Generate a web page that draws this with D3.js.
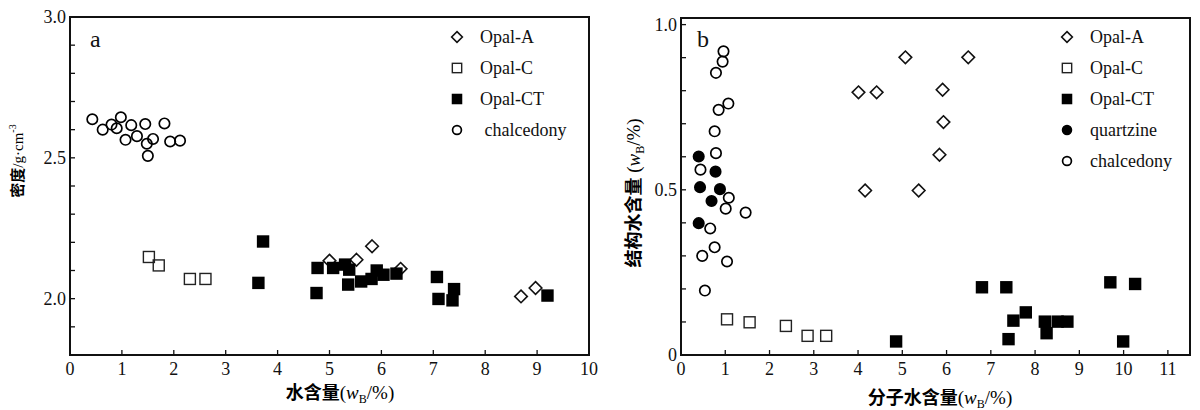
<!doctype html>
<html>
<head>
<meta charset="utf-8">
<script src="https://cdn.jsdelivr.net/npm/d3@7/dist/d3.min.js"></script>
<style>
    html, body { margin: 0; padding: 0; background: #fff; }
    svg { display: block; }
    .tick-label { font-family: "Liberation Serif", "DejaVu Serif", serif; font-size: 18px; fill: #111; }
    .legend-label { font-family: "Liberation Serif", "DejaVu Serif", serif; font-size: 18px; fill: #111; }
    .cjk { font-family: "Noto Sans CJK SC", sans-serif; font-weight: bold; }
    .serif { font-family: "Liberation Serif", serif; font-weight: normal; }
</style>
<script>
    // panel a: water content vs density
    var aOpalA = [[5.0, 2.135], [5.52, 2.138], [5.82, 2.186], [6.37, 2.106], [8.69, 2.008], [8.97, 2.038]];
    var aOpalC = [[1.52, 2.148], [1.71, 2.118], [2.31, 2.07], [2.61, 2.07]];
    var aOpalCT = [[3.72, 2.203], [3.63, 2.056], [4.77, 2.109], [4.75, 2.02], [5.07, 2.109], [5.30, 2.121],
        [5.38, 2.103], [5.36, 2.05], [5.61, 2.061], [5.81, 2.07], [5.91, 2.10], [6.04, 2.085], [6.29, 2.089],
        [7.07, 2.077], [7.40, 2.034], [7.10, 1.999], [7.37, 1.994], [9.20, 2.011]];
    var aChalcedony = [[0.43, 2.637], [0.63, 2.60], [0.80, 2.618], [0.90, 2.605], [0.98, 2.644], [1.18, 2.616],
        [1.07, 2.564], [1.29, 2.577], [1.45, 2.62], [1.60, 2.567], [1.48, 2.55], [1.50, 2.507],
        [1.82, 2.622], [1.93, 2.558], [2.12, 2.561]];

    // panel b: molecular water vs structural water
    var bOpalA = [[5.07, 0.901], [6.49, 0.901], [4.01, 0.795], [4.42, 0.795], [5.91, 0.803], [5.93, 0.705],
        [5.84, 0.606], [4.16, 0.498], [5.37, 0.498]];
    var bOpalC = [[1.04, 0.108], [1.55, 0.099], [2.37, 0.088], [2.86, 0.058], [3.28, 0.058]];
    var bOpalCT = [[6.80, 0.205], [7.35, 0.205], [9.70, 0.22], [10.26, 0.215], [7.79, 0.129], [7.51, 0.104],
        [8.22, 0.101], [8.51, 0.101], [8.73, 0.101], [8.26, 0.066], [7.40, 0.048], [4.86, 0.041], [9.99, 0.041]];
    var bQuartzine = [[0.40, 0.601], [0.78, 0.555], [0.43, 0.508], [0.88, 0.502], [0.69, 0.466], [0.40, 0.399]];
    var bChalcedony = [[0.96, 0.919], [0.94, 0.888], [0.79, 0.854], [1.07, 0.761], [0.85, 0.742], [0.76, 0.677],
        [0.79, 0.611], [0.44, 0.561], [1.08, 0.476], [1.01, 0.443], [1.46, 0.431], [0.66, 0.383],
        [0.76, 0.326], [0.48, 0.30], [1.04, 0.283], [0.54, 0.195]];

    var aXTicks = d3.range(0, 11);
    var aYTicks = d3.range(18, 31).map(function (d) { return d / 10; });
    var aYLabels = [2.0, 2.5, 3.0];
    var bXTicks = d3.range(0, 12);
    var bYTicks = d3.range(0, 11).map(function (d) { return d / 10; });
    var bYLabels = [0, 0.5, 1.0];

    var legendA = [
        { name: "Opal-A", kind: "diamond" },
        { name: "Opal-C", kind: "square" },
        { name: "Opal-CT", kind: "fsquare" },
        { name: " chalcedony", kind: "circle" }
    ];
    var legendB = [
        { name: "Opal-A", kind: "diamond" },
        { name: "Opal-C", kind: "square" },
        { name: "Opal-CT", kind: "fsquare" },
        { name: "quartzine", kind: "fcircle" },
        { name: "chalcedony", kind: "circle" }
    ];

    var drawMarks = function (g, data, kind, x, y, scale) {
        var s = scale || 1;
        var sel = g.selectAll(null).data(data);
        if (kind === "circle" || kind === "fcircle") {
            sel.enter().append("circle")
                .attr("cx", function (d) { return x(d[0]); })
                .attr("cy", function (d) { return y(d[1]); })
                .attr("r", 5.2 * s)
                .attr("fill", kind === "fcircle" ? "#000" : "none")
                .attr("stroke", "#000")
                .attr("stroke-width", 1.7);
        } else if (kind === "square" || kind === "fsquare") {
            var h = (kind === "fsquare" ? 6.2 : 5.5) * s;
            sel.enter().append("rect")
                .attr("x", function (d) { return x(d[0]) - h; })
                .attr("y", function (d) { return y(d[1]) - h; })
                .attr("width", 2 * h)
                .attr("height", 2 * h)
                .attr("fill", kind === "fsquare" ? "#000" : "none")
                .attr("stroke", kind === "fsquare" ? "none" : "#222")
                .attr("stroke-width", 1.4);
        } else {
            var r = 6.3 * s;
            sel.enter().append("path")
                .attr("d", function (d) {
                    var cx = x(d[0]), cy = y(d[1]);
                    return "M" + cx + "," + (cy - r) + "L" + (cx + r) + "," + cy +
                        "L" + cx + "," + (cy + r) + "L" + (cx - r) + "," + cy + "Z";
                })
                .attr("fill", "none")
                .attr("stroke", "#111")
                .attr("stroke-width", 1.6);
        }
    };

    var drawFrame = function (svg, box, x, y, xTicks, yTicks, yLabels, yFmt) {
        var g = svg.append("g");
        // inward ticks
        g.selectAll(null).data(xTicks).enter().append("line")
            .attr("x1", function (d) { return x(d); }).attr("x2", function (d) { return x(d); })
            .attr("y1", box.bottom).attr("y2", box.bottom - 5)
            .attr("stroke", "#111").attr("stroke-width", 1.3);
        g.selectAll(null).data(yTicks).enter().append("line")
            .attr("x1", box.left).attr("x2", box.left + 5)
            .attr("y1", function (d) { return y(d); }).attr("y2", function (d) { return y(d); })
            .attr("stroke", "#111").attr("stroke-width", 1.3);
        g.append("rect")
            .attr("x", box.left).attr("y", box.top)
            .attr("width", box.right - box.left).attr("height", box.bottom - box.top)
            .attr("fill", "none").attr("stroke", "#111").attr("stroke-width", 2);
        g.selectAll(null).data(xTicks).enter().append("text")
            .attr("class", "tick-label")
            .attr("x", function (d) { return x(d); })
            .attr("y", box.bottom + 20)
            .attr("text-anchor", "middle")
            .text(function (d) { return d; });
        g.selectAll(null).data(yLabels).enter().append("text")
            .attr("class", "tick-label")
            .attr("x", box.left - 4)
            .attr("y", function (d) { return y(d) + 6; })
            .attr("text-anchor", "end")
            .text(yFmt);
    };

    var drawLegend = function (svg, items, lx, ly) {
        var step = 31;
        items.forEach(function (it, i) {
            var g = svg.append("g");
            var cy = ly + i * step;
            var px = function () { return lx; }, py = function () { return cy; };
            drawMarks(g, [[0, 0]], it.kind, px, py, 0.85);
            g.append("text")
                .attr("class", "legend-label")
                .attr("x", lx + 23)
                .attr("y", cy + 6)
                .attr("xml:space", "preserve")
                .text(it.name);
        });
    };

    var axisTitle = function (svg, cjk, x, y, rotate, gap) {
        var t = svg.append("text")
            .attr("text-anchor", "middle")
            .attr("transform", "translate(" + x + "," + y + ")" + (rotate ? " rotate(-90)" : ""))
            .attr("font-size", 18)
            .attr("xml:space", "preserve");
        t.append("tspan").attr("class", "cjk").text(cjk);
        t.append("tspan").attr("class", "serif").attr("font-size", 19).text((gap ? " " : "") + "(");
        t.append("tspan").attr("class", "serif").attr("font-size", 19).attr("font-style", "italic").text("w");
        t.append("tspan").attr("class", "serif").attr("font-size", 12).attr("dy", 4).text("B");
        t.append("tspan").attr("class", "serif").attr("font-size", 19).attr("dy", -4).text("/%)");
        return t;
    };

    var renderChart = function () {
        var svg = d3.select("#viz").append("svg")
            .attr("width", 1200).attr("height", 410);

        // panel a
        var boxA = { left: 70, right: 589, top: 17, bottom: 355 };
        var xA = d3.scaleLinear().domain([0, 10]).range([boxA.left, boxA.right]);
        var yA = d3.scaleLinear().domain([1.8, 3.0]).range([boxA.bottom, boxA.top]);
        drawFrame(svg, boxA, xA, yA, aXTicks, aYTicks, aYLabels, function (d) { return d.toFixed(1); });
        var gA = svg.append("g");
        drawMarks(gA, aOpalA, "diamond", xA, yA);
        drawMarks(gA, aOpalC, "square", xA, yA);
        drawMarks(gA, aOpalCT, "fsquare", xA, yA);
        drawMarks(gA, aChalcedony, "circle", xA, yA);
        svg.append("text").attr("class", "tick-label").style("font-size", "24px")
            .attr("x", 90).attr("y", 47).text("a");
        drawLegend(svg, legendA, 457, 37);
        axisTitle(svg, "水含量", 340, 399, false, false);
        var ya = svg.append("text")
            .attr("text-anchor", "middle")
            .attr("transform", "translate(23,161) rotate(-90)")
            .attr("font-size", 15);
        ya.append("tspan").attr("class", "cjk").text("密度");
        ya.append("tspan").attr("class", "serif").text("/g·cm");
        ya.append("tspan").attr("class", "serif").attr("font-size", 10).attr("dy", -7).text("-3");

        // panel b
        var boxB = { left: 681, right: 1190, top: 18, bottom: 355 };
        var xB = d3.scaleLinear().domain([0, 11.5]).range([boxB.left, boxB.right]);
        var yB = d3.scaleLinear().domain([0, 1.02]).range([boxB.bottom, boxB.top]);
        drawFrame(svg, boxB, xB, yB, bXTicks, bYTicks, bYLabels, function (d) { return d === 0 ? "0" : d.toFixed(1); });
        var gB = svg.append("g");
        drawMarks(gB, bOpalA, "diamond", xB, yB);
        drawMarks(gB, bOpalC, "square", xB, yB);
        drawMarks(gB, bOpalCT, "fsquare", xB, yB);
        drawMarks(gB, bChalcedony, "circle", xB, yB);
        drawMarks(gB, bQuartzine, "fcircle", xB, yB);
        svg.append("text").attr("class", "tick-label").style("font-size", "24px")
            .attr("x", 697).attr("y", 47).text("b");
        drawLegend(svg, legendB, 1067, 37);
        axisTitle(svg, "分子水含量", 940, 404, false, false);
        axisTitle(svg, "结构水含量", 640, 193, true, true);
    };

    window.onload = renderChart;
</script>
</head>
<body>
    <div id="viz"></div>
</body>
</html>
